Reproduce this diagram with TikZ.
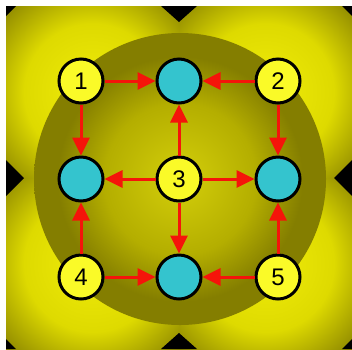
\documentclass[tikz,border=0pt]{standalone}
\usepackage{fontspec}
\setmainfont{Liberation Sans}
\usetikzlibrary{arrows.meta}
\definecolor{nodeyellow}{RGB}{250,250,40}
\definecolor{nodecyan}{RGB}{52,196,206}
\definecolor{arrowred}{RGB}{245,20,10}
\definecolor{qA}{RGB}{240,236,10}
\definecolor{qB}{RGB}{222,218,0}
\definecolor{qC}{RGB}{140,134,0}
\definecolor{cA}{RGB}{212,207,10}
\definecolor{cB}{RGB}{180,174,0}
\definecolor{cC}{RGB}{132,126,0}
\pgfdeclareradialshading{quadshade}{\pgfpoint{0bp}{0bp}}{color(0bp)=(qA); color(14bp)=(qB); color(25bp)=(qC); color(50bp)=(qC)}
\pgfdeclareradialshading{centralshade}{\pgfpoint{0bp}{0bp}}{color(0bp)=(cA); color(13bp)=(cB); color(21bp)=(cC); color(25bp)=(cC); color(50bp)=(cC)}
\tikzset{
  numnode/.style={circle, draw=black, line width=3pt, fill=nodeyellow, minimum size=44pt, inner sep=0pt, font=\fontsize{24}{24}\selectfont},
  endnode/.style={circle, draw=black, line width=3pt, fill=nodecyan, minimum size=44pt, inner sep=0pt},
  flow/.style={draw=arrowred, line width=3pt, -{Triangle[length=18pt,width=17pt]}},
  gap/.style={fill=black}
}
\begin{document}
\begin{tikzpicture}[x=1pt,y=-1pt]
\useasboundingbox (0,0) rectangle (352,349);
\fill[white] (0,0) rectangle (352,349);
\begin{scope}
\clip (6,6) rectangle (352,349);
\foreach \xa/\ya/\xb/\yb/\cx/\cy in {6/6/179/178/92.5/92, 179/6/352/178/265.5/92, 6/178/179/349/92.5/263.5, 179/178/352/349/265.5/263.5}{
  \begin{scope}
    \clip (\xa,\ya) rectangle (\xb,\yb);
    \shade[shading=quadshade] (\cx,\cy) circle[radius=122pt];
  \end{scope}
}
\shade[shading=centralshade] (180,179) circle[radius=146pt];
\fill[gap] (6,160) -- (24,178) -- (6,196) -- cycle;
\fill[gap] (352,160) -- (334,178) -- (352,196) -- cycle;
\fill[gap] (161,6) -- (179,22) -- (197,6) -- cycle;
\fill[gap] (161,349) -- (179,333) -- (197,349) -- cycle;
\fill[gap] (6,6) -- (16,6) -- (6,16) -- cycle;
\fill[gap] (352,6) -- (342,6) -- (352,16) -- cycle;
\fill[gap] (6,349) -- (16,349) -- (6,339) -- cycle;
\fill[gap] (352,349) -- (342,349) -- (352,339) -- cycle;
\end{scope}
\node[numnode] (n1) at (81,81) {1};
\node[endnode] (t) at (179,81) {};
\node[numnode] (n2) at (278,81) {2};
\node[endnode] (l) at (81,179) {};
\node[numnode] (n3) at (179,179) {3};
\node[endnode] (r) at (278,179) {};
\node[numnode] (n4) at (81,277) {4};
\node[endnode] (b) at (179,277) {};
\node[numnode] (n5) at (278,277) {5};
\draw[flow] (n1) -- (t);
\draw[flow] (n2) -- (t);
\draw[flow] (n1) -- (l);
\draw[flow] (n2) -- (r);
\draw[flow] (n3) -- (t);
\draw[flow] (n3) -- (l);
\draw[flow] (n3) -- (r);
\draw[flow] (n3) -- (b);
\draw[flow] (n4) -- (l);
\draw[flow] (n4) -- (b);
\draw[flow] (n5) -- (b);
\draw[flow] (n5) -- (r);
\end{tikzpicture}
\end{document}
